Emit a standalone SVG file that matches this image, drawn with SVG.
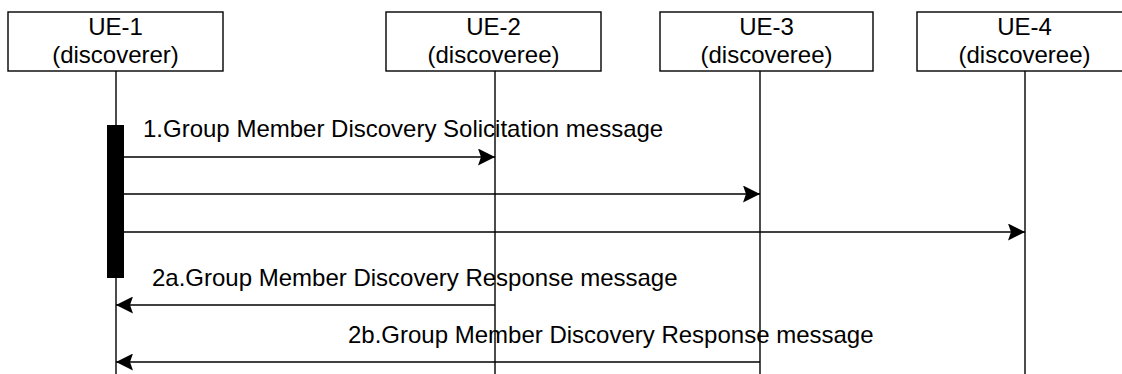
<svg xmlns="http://www.w3.org/2000/svg" width="1122" height="374" viewBox="0 0 1122 374">
<defs>
<marker id="ah" markerWidth="17" markerHeight="17" viewBox="0 0 17 17" refX="17" refY="8.5" orient="auto" markerUnits="userSpaceOnUse">
<path d="M0,0 L17,8.5 L0,17 L3,8.5 Z" fill="#000"/>
</marker>
<style>
.box{fill:#fff;stroke:#000;stroke-width:1.4}
.life{stroke:#000;stroke-width:1.4;fill:none}
.msg{stroke:#000;stroke-width:1.4;fill:none;marker-end:url(#ah)}
text{font-family:"Liberation Sans",Arial,sans-serif;font-size:24px;fill:#000}
.c{text-anchor:middle}
</style>
</defs>
<rect width="1122" height="374" fill="#fff"/>
<g id="ue1">
<rect class="box" x="8" y="12" width="215" height="59"/>
<text class="c" x="115.5" y="35">UE-1</text>
<text class="c" x="115.5" y="63">(discoverer)</text>
<line class="life" x1="116" y1="71" x2="116" y2="374"/>
<rect x="107" y="125" width="17" height="153" fill="#000"/>
</g>
<g id="ue2">
<rect class="box" x="386" y="12" width="215" height="59"/>
<text class="c" x="493.5" y="35">UE-2</text>
<text class="c" x="493.5" y="63">(discoveree)</text>
<line class="life" x1="495" y1="71" x2="495" y2="374"/>
</g>
<g id="ue3">
<rect class="box" x="660" y="12" width="213" height="59"/>
<text class="c" x="766.5" y="35">UE-3</text>
<text class="c" x="766.5" y="63">(discoveree)</text>
<line class="life" x1="760" y1="71" x2="760" y2="374"/>
</g>
<g id="ue4">
<rect class="box" x="917" y="12" width="215" height="59"/>
<text class="c" x="1024.5" y="35">UE-4</text>
<text class="c" x="1024.5" y="63">(discoveree)</text>
<line class="life" x1="1025" y1="71" x2="1025" y2="374"/>
</g>
<g id="connectors">
<line class="msg" x1="124" y1="157" x2="495" y2="157"/>
<line class="msg" x1="124" y1="194" x2="760" y2="194"/>
<line class="msg" x1="124" y1="232" x2="1025" y2="232"/>
<line class="msg" x1="495" y1="305" x2="116" y2="305"/>
<line class="msg" x1="760" y1="362" x2="116" y2="362"/>
<text x="143" y="137">1.Group Member Discovery Solicitation message</text>
<text x="152" y="286">2a.Group Member Discovery Response message</text>
<text x="348" y="343">2b.Group Member Discovery Response message</text>
</g>
</svg>
